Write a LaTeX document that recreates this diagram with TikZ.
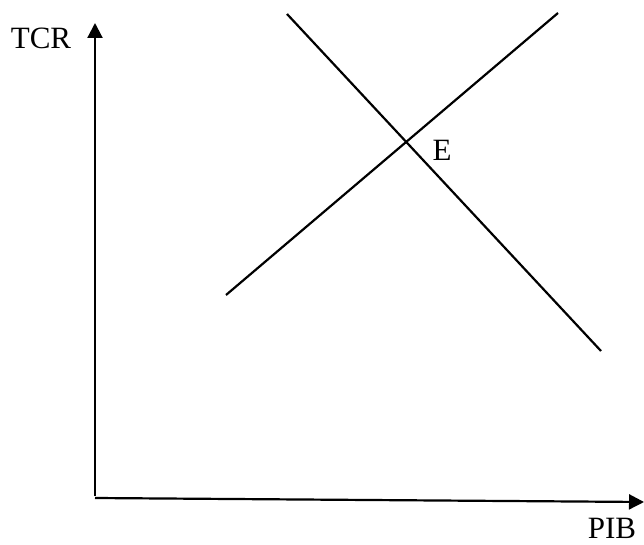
\documentclass[tikz,border=0pt]{standalone}
\usepackage{fontspec}
\setmainfont{Liberation Serif}
\usetikzlibrary {arrows.meta}

\begin{document}
\begin{tikzpicture}[x=1pt,y=-1pt]

\tikzset{every node/.style={font=\fontsize{31}{34}\selectfont,inner sep=0pt,anchor=center}};
\tikzset{axis/.style={line width=2.2pt,-{Triangle[length=15pt,width=15pt]}}};
\tikzset{curve/.style={line width=2.2pt}};

\useasboundingbox (0,0) rectangle (644,545);

% Axes
\coordinate (o) at (95,496);
\coordinate (ytop) at (95,23);
\coordinate (xo) at (95,498);
\coordinate (xend) at (644,502);
\draw[axis] (o) -- (ytop);
\draw[axis] (xo) -- (xend);

% Axis labels
\node (tcr) at (41,38) {TCR};
\node (pib) at (612,528) {PIB};

% The two curves
\coordinate (a1) at (287,14);
\coordinate (a2) at (601,351);
\coordinate (b1) at (226,295);
\coordinate (b2) at (558,13);
\draw[curve] (a1) -- (a2);
\draw[curve] (b1) -- (b2);

% Equilibrium point
\node (e) at (442,150) {E};

\end{tikzpicture}
\end{document}
